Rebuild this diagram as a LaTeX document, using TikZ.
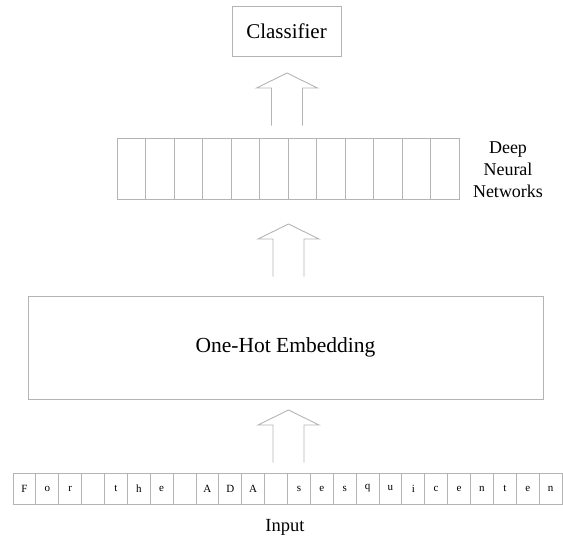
\documentclass[tikz,border=0pt]{standalone}
\usepackage{fontspec}
\setmainfont{Liberation Serif}
\definecolor{edge}{HTML}{B4B4B4}
\tikzset{
  box/.style={draw=edge, line width=0.9pt, inner sep=0pt, anchor=center},
  cell/.style={draw=edge, line width=0.9pt, inner sep=0pt, anchor=center,
    font=\fontsize{11}{13}\selectfont},
  label/.style={inner sep=0pt, anchor=center},
  blockarrow/.pic={
    \draw[edge, line width=0.9pt, line join=miter]
      (-15.5,52.5) -- (-15.5,15) -- (-30.5,15) -- (0,0) -- (30.5,15)
      -- (15.5,15) -- (15.5,52.5);
  }
}
\begin{document}
\begin{tikzpicture}[x=1pt, y=-1pt]
  \useasboundingbox (0,0) rectangle (563,541);

  % classifier on top
  \node[box, minimum width=109pt, minimum height=50pt,
        font=\fontsize{21}{25}\selectfont] (cls) at (286.5,31) {Classifier};

  % deep network: a strip of twelve units
  \foreach \i in {1,...,12} {
    \node[cell, minimum width=28.5pt, minimum height=61pt]
      (d\i) at ({117+28.5*(\i-0.5)},168.5) {};
  }
  \node[label, align=center, font=\fontsize{18}{22}\selectfont]
    (dnn) at (508,170) {Deep\\Neural\\Networks};

  % embedding layer
  \node[box, minimum width=515pt, minimum height=103pt,
        font=\fontsize{21.5}{25}\selectfont] (emb) at (285.5,347.5) {One-Hot Embedding};

  % input characters, one per cell
  \foreach \ch [count=\i] in {F,o,r, ,t,h,e, ,A,D,A, ,s,e,s,q,u,i,c,e,n,t,e,n} {
    \node[cell, minimum width=22.875pt, minimum height=31pt]
      (c\i) at ({13+22.875*(\i-0.5)},488.5) {\ch};
  }
  \node[label, font=\fontsize{18.5}{22}\selectfont] (inp) at (285,527) {Input};

  % block arrows between the layers
  \coordinate (a1) at (287,73);
  \coordinate (a2) at (288.5,224);
  \coordinate (a3) at (288.5,410);
  \pic at (a1) {blockarrow};
  \pic at (a2) {blockarrow};
  \pic at (a3) {blockarrow};
\end{tikzpicture}
\end{document}
